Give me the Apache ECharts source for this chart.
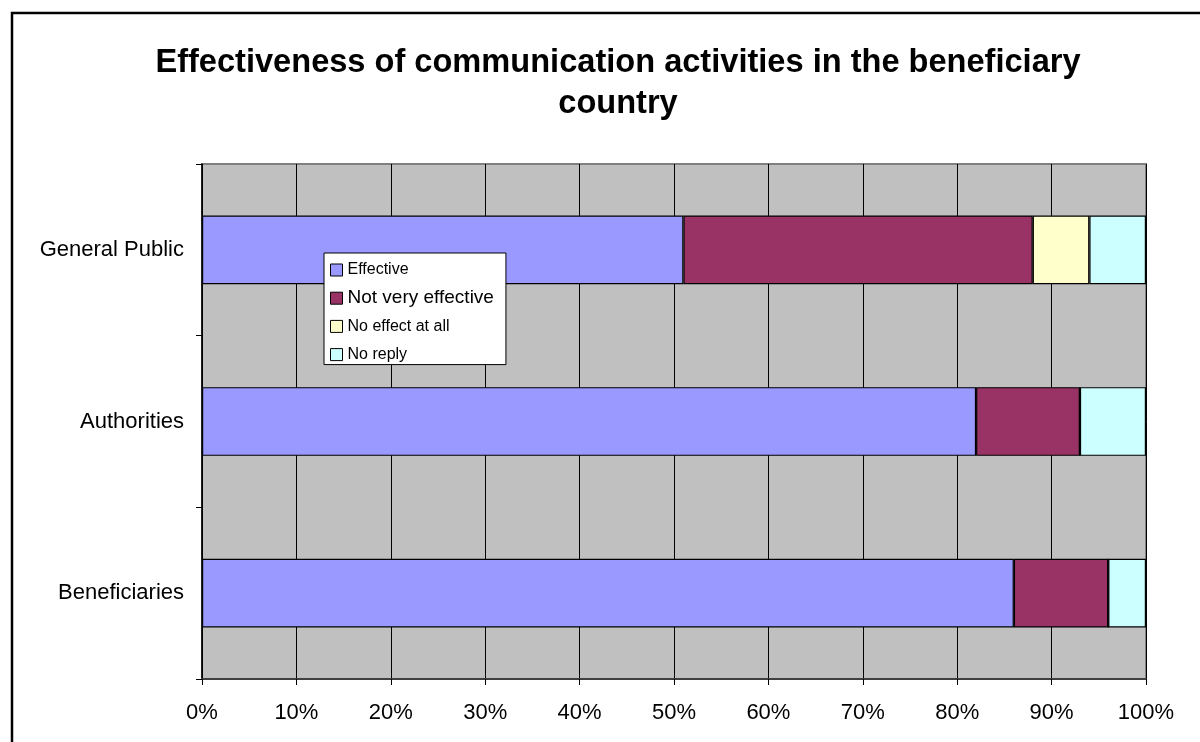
<!DOCTYPE html>
<html>
<head>
<meta charset="utf-8">
<script src="https://cdn.jsdelivr.net/npm/echarts@6/dist/echarts.min.js"></script>
<style>
html,body{margin:0;padding:0;background:#fff;}
#chart{width:1200px;height:742px;}
</style>
</head>
<body>
<div id="chart"></div>
<script>
const categories = ['General Public', 'Authorities', 'Beneficiaries'];
const effective = [51, 82, 86];
const notVeryEffective = [37, 11, 10];
const noEffectAtAll = [6, 0, 0];
const noReply = [6, 7, 4];
const seriesNames = ['Effective', 'Not very effective', 'No effect at all', 'No reply'];
const xTickFormat = '{value}%';

const FONT = 'Arial, "Liberation Sans", Helvetica, sans-serif';
const colors = ['#9999FF', '#993366', '#FFFFCC', '#CCFFFF'];
const seriesData = [effective, notVeryEffective, noEffectAtAll, noReply];
const legendSizes = [16, 19, 16, 16];

const chart = echarts.init(document.getElementById('chart'), null, {renderer: 'canvas'});
const option = {
  animation: false,
  backgroundColor: '#ffffff',
  title: {
    text: 'Effectiveness of communication activities in the beneficiary\ncountry',
    left: 613,
    top: 38,
    textAlign: 'center',
    textStyle: {fontFamily: FONT, fontSize: 32.6, fontWeight: 'bold', color: '#000', lineHeight: 41}
  },
  graphic: [{
    type: 'rect',
    shape: {x: 12, y: 13, width: 1400, height: 1000},
    style: {fill: 'none', stroke: '#000', lineWidth: 2.5},
    silent: true,
    z: 100
  }],
  legend: {
    orient: 'vertical',
    left: 324,
    top: 253,
    backgroundColor: '#ffffff',
    borderColor: '#000',
    borderWidth: 1,
    padding: [7, 12, 0, 6],
    itemWidth: 12,
    itemHeight: 12,
    itemGap: 8.2,
    icon: 'rect',
    itemStyle: {borderColor: '#000', borderWidth: 1},
    textStyle: {fontFamily: FONT, color: '#000', lineHeight: 20, padding: [0, 0, 0, 0]},
    data: seriesNames.map((n, i) => ({name: n, textStyle: {fontSize: legendSizes[i]}})),
    z: 10
  },
  grid: {
    left: 202, right: 54, top: 164, bottom: 63,
    show: true,
    backgroundColor: '#C0C0C0',
    borderColor: '#808080',
    borderWidth: 2,
    containLabel: false
  },
  xAxis: {
    type: 'value',
    min: 0, max: 100, interval: 10,
    axisLabel: {formatter: xTickFormat, fontFamily: FONT, fontSize: 22, color: '#000', margin: 23},
    axisLine: {show: true, lineStyle: {color: '#404040', width: 2}},
    axisTick: {show: true, length: 6, lineStyle: {color: '#000', width: 1}},
    splitLine: {show: true, lineStyle: {color: '#000', width: 1}}
  },
  yAxis: {
    type: 'category',
    data: categories,
    inverse: true,
    axisLabel: {fontFamily: FONT, fontSize: 22, color: '#000', margin: 18},
    axisLine: {show: true, lineStyle: {color: '#000', width: 1.5}},
    axisTick: {show: true, length: 6, lineStyle: {color: '#000', width: 1}},
    splitLine: {show: false}
  },
  series: seriesNames.map((n, i) => ({
    name: n,
    type: 'bar',
    stack: 'total',
    barWidth: '40%',
    data: seriesData[i],
    itemStyle: {color: colors[i], borderColor: '#000', borderWidth: 1.2},
    emphasis: {disabled: true}
  }))
};
chart.setOption(option);
</script>
</body>
</html>
